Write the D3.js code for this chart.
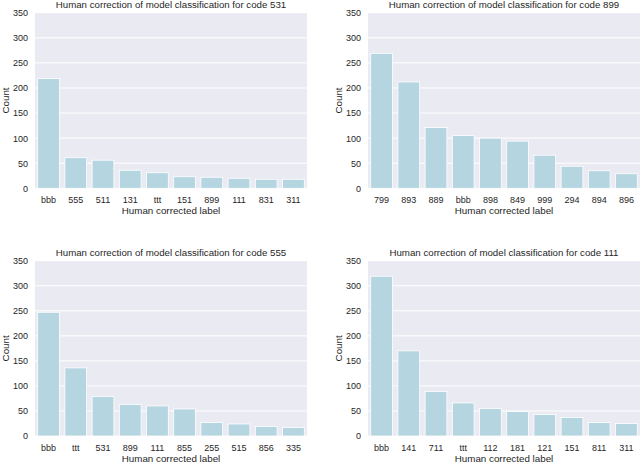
<!DOCTYPE html>
<html>
<head>
<meta charset="utf-8">
<script src="https://cdn.jsdelivr.net/npm/d3@7"></script>
<style>
  body { margin: 0; background: #fff; }
  svg { display: block; font-family: "Liberation Sans", Arial, sans-serif; }
</style>
</head>
<body>
<div id="chart"></div>
<script>
// values, one set per subplot
const codes = ["531", "899", "555", "111"];

const labels531 = ["bbb", "555", "511", "131", "ttt", "151", "899", "111", "831", "311"];
const counts531 = [219, 61, 56, 36, 31, 23, 22, 20, 18, 18];

const labels899 = ["799", "893", "889", "bbb", "898", "849", "999", "294", "894", "896"];
const counts899 = [269, 212, 121, 105, 100, 94, 66, 44, 35, 29];

const labels555 = ["bbb", "ttt", "531", "899", "111", "855", "255", "515", "856", "335"];
const counts555 = [247, 136, 79, 63, 60, 54, 27, 24, 19, 17];

const labels111 = ["bbb", "141", "711", "ttt", "112", "181", "121", "151", "811", "311"];
const counts111 = [319, 170, 89, 66, 55, 49, 43, 37, 27, 25];

const yTicks = [0, 50, 100, 150, 200, 250, 300, 350];

const W = 640, H = 463;
const barColor = "#b5d5e0";

// plot-area boxes
const panels = [
  { code: codes[0], labels: labels531, counts: counts531, x0: 35,  x1: 307, y0: 12.7,  y1: 188.3 },
  { code: codes[1], labels: labels899, counts: counts899, x0: 368, x1: 640, y0: 12.7,  y1: 188.3 },
  { code: codes[2], labels: labels555, counts: counts555, x0: 35,  x1: 307, y0: 260.7, y1: 436 },
  { code: codes[3], labels: labels111, counts: counts111, x0: 368, x1: 640, y0: 260.7, y1: 436 }
];

var svg = d3.select("#chart")
  .append("svg")
  .attr("width", W)
  .attr("height", H);

panels.forEach(function(p) {
  var data = p.labels.map(function(l, i) { return { label: l, count: p.counts[i] }; });

  var x = d3.scaleBand()
    .domain(p.labels)
    .range([p.x0, p.x1])
    .paddingInner(0.2)
    .paddingOuter(0.1);

  var y = d3.scaleLinear()
    .domain([0, 350])
    .range([p.y1, p.y0]);

  var g = svg.append("g");

  // darkgrid background
  g.append("rect")
    .attr("x", p.x0)
    .attr("y", p.y0)
    .attr("width", p.x1 - p.x0)
    .attr("height", p.y1 - p.y0)
    .attr("fill", "#eaeaf2");

  g.selectAll(".grid")
    .data(yTicks)
    .enter().append("line")
    .attr("x1", p.x0)
    .attr("x2", p.x1)
    .attr("y1", function(d) { return y(d); })
    .attr("y2", function(d) { return y(d); })
    .attr("stroke", "#fff")
    .attr("stroke-width", 1);

  g.selectAll(".bar")
    .data(data)
    .enter().append("rect")
    .attr("x", function(d) { return x(d.label); })
    .attr("y", function(d) { return y(d.count); })
    .attr("width", x.bandwidth())
    .attr("height", function(d) { return y(0) - y(d.count); })
    .attr("fill", barColor)
    .attr("stroke", "#fff")
    .attr("stroke-width", 0.8);

  // y axis
  var yAxis = g.append("g")
    .attr("transform", "translate(" + p.x0 + ",0)")
    .call(d3.axisLeft(y).tickValues(yTicks).tickSize(0).tickPadding(7));
  yAxis.select(".domain").remove();
  yAxis.selectAll("text")
    .attr("fill", "#262626")
    .style("font-size", "9px");

  // x axis
  var xAxis = g.append("g")
    .attr("transform", "translate(0," + p.y1 + ")")
    .call(d3.axisBottom(x).tickSize(0).tickPadding(8.5));
  xAxis.select(".domain").remove();
  xAxis.selectAll("text")
    .attr("fill", "#262626")
    .style("font-size", "9px");

  // labels
  g.append("text")
    .attr("x", (p.x0 + p.x1) / 2)
    .attr("y", p.y1 + 26)
    .attr("text-anchor", "middle")
    .attr("fill", "#262626")
    .style("font-size", "9.8px")
    .text("Human corrected label");

  g.append("text")
    .attr("transform", "translate(" + (p.x0 - 26) + "," + ((p.y0 + p.y1) / 2) + ") rotate(-90)")
    .attr("text-anchor", "middle")
    .attr("fill", "#262626")
    .style("font-size", "9.8px")
    .text("Count");

  g.append("text")
    .attr("x", (p.x0 + p.x1) / 2)
    .attr("y", p.y0 - 5)
    .attr("text-anchor", "middle")
    .attr("fill", "#262626")
    .style("font-size", "9.7px")
    .text("Human correction of model classification for code " + p.code);
});
</script>
</body>
</html>
